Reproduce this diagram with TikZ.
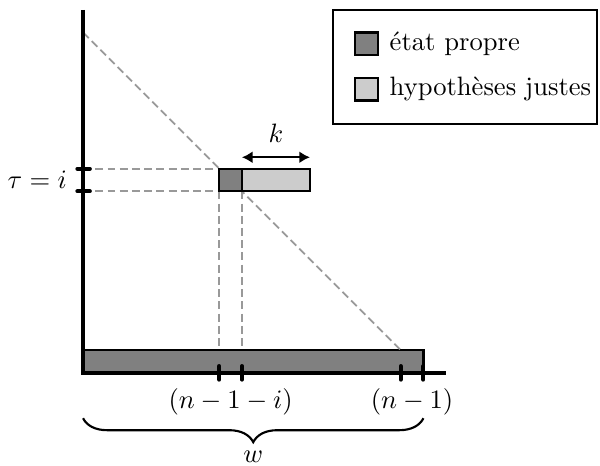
\documentclass[tikz,border=0pt]{standalone}
\usepackage{amsmath}
\usepackage{tikz}
\usetikzlibrary{arrows.meta, decorations.pathreplacing, calc}
\tikzset{
  guide/.style={gray!80, line width=0.7pt, dash pattern=on 3pt off 1.6pt},
  axisline/.style={line width=1.5pt},
  tickmark/.style={line width=1.5pt, line cap=round},
  own/.style={thick, fill=black!50},
  right guess/.style={thick, fill=black!20}
}

\begin{document}
\begin{tikzpicture}[x=0.3cm, y=0.3cm, >={Latex[length=4pt,width=4.5pt]}]
  \useasboundingbox (-3.66,-4.1) rectangle (22.78,16.43);
  \coordinate (O) at (0,0);
  \coordinate (T) at (0,15);
  \coordinate (E) at (14,1);

  % state bar along the axis
  \draw[own] (O) rectangle (15,1);
  % guide lines
  \draw[guide] (T) -- (E);
  \draw[guide] (0,9) -- (6,9) (0,8) -- (6,8);
  \draw[guide] (6,8) -- (6,1) (7,8) -- (7,1);
  % window at time tau
  \draw[own] (6,8) rectangle (7,9);
  \draw[right guess] (7,8) rectangle (10,9);
  \draw[<->, thick] (7,9.5) -- (10,9.5) node[midway, above=2pt] (k) {$k$};
  % axes
  \draw[axisline] (0,16) -- (O) -- (16,0);
  \foreach \x in {6,7,14,15}
    \draw[tickmark] (\x,-0.3) -- (\x,0.3);
  \foreach \y in {8,9}
    \draw[tickmark] (-0.25,\y) -- (0.3,\y);
  \node[left] (tau) at (-0.3,8.5) {$\tau = i$};
  \node[below] (ni) at (6.5,-0.3) {$(n-1-i)$};
  \node[below] (nn) at (14.5,-0.3) {$(n-1)$};
  % width brace
  \draw[thick, decorate, decoration={brace, mirror, amplitude=9pt}] (0,-2) -- (15,-2);
  \node[below] (w) at (7.5,-3.05) {$w$};
  % legend
  \draw[thick] (11,10.95) rectangle (22.65,16);
  \draw[own] (12,14) rectangle (13,15);
  \node[right] (lgown) at (13.1,14.5) {état propre};
  \draw[right guess] (12,12) rectangle (13,13);
  \node[right] (lgguess) at (13.1,12.5) {hypothèses justes};
\end{tikzpicture}
\end{document}
